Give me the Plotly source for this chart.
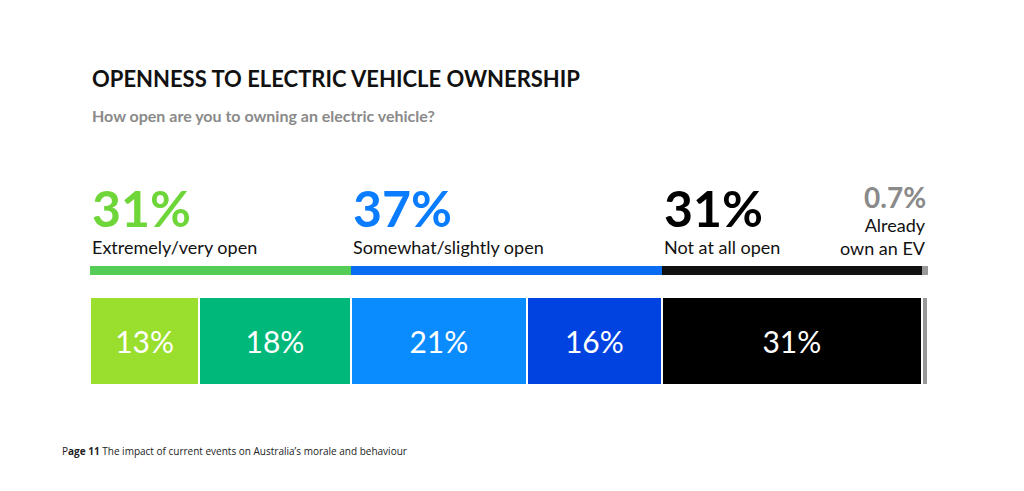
import plotly.graph_objects as go

segments = ["13%", "18%", "21%", "16%", "31%", ""]
values = [13, 18, 21, 16, 31, 0.7]
seg_colors = ["#9ade2e", "#00b87a", "#0a8cff", "#0043e0", "#000000", "#999999"]

groups = ["31%", "37%", "31%", "0.7%"]
group_labels = ["Extremely/very open", "Somewhat/slightly open", "Not at all open", "Already<br>own an EV"]
group_values = [31, 37, 31, 0.7]
group_colors = ["#55cc55", "#0a6cf0", "#111111", "#999999"]
group_text_colors = ["#6fd63a", "#0a7cff", "#000000", "#8a8a8a"]

total = sum(values)
fig = go.Figure()

# thin summary bar
for v, c in zip(group_values, group_colors):
    fig.add_trace(go.Bar(x=[v], y=[270], orientation="h", width=9,
                         marker=dict(color=c, line=dict(width=0)), showlegend=False,
                         hoverinfo="skip"))

# main segmented bar
for lab, v, c in zip(segments, values, seg_colors):
    fig.add_trace(go.Bar(x=[v], y=[341], orientation="h", width=88,
                         marker=dict(color=c, line=dict(color="white", width=2)),
                         text=[lab], textposition="inside", insidetextanchor="middle",
                         textfont=dict(family="Lato", size=30, color="white"),
                         showlegend=False, hoverinfo="skip"))

fig.update_layout(
    barmode="stack", width=1024, height=491,
    margin=dict(l=82, r=104, t=0, b=0),
    paper_bgcolor="white", plot_bgcolor="white",
    xaxis=dict(range=[0, total], visible=False),
    yaxis=dict(range=[499, 8], visible=False),
    font=dict(family="Lato"),
)

fig.add_annotation(text="<b>OPENNESS TO ELECTRIC VEHICLE OWNERSHIP</b>", xref="paper", yref="y",
                   x=0, y=78, xanchor="left", yanchor="middle", showarrow=False,
                   font=dict(size=22, color="#111111"))
fig.add_annotation(text="<b>How open are you to owning an electric vehicle?</b>", xref="paper", yref="y",
                   x=0, y=115, xanchor="left", yanchor="middle", showarrow=False,
                   font=dict(size=16, color="#8a8a8a"))

start = 0
for i, (g, lab, v, tc) in enumerate(zip(groups, group_labels, group_values, group_text_colors)):
    if i < 3:
        fig.add_annotation(text="<b>" + g + "</b>", x=start, y=208, xanchor="left", yanchor="middle",
                           showarrow=False, font=dict(size=50, color=tc))
        fig.add_annotation(text=lab, x=start, y=247, xanchor="left", yanchor="middle",
                           showarrow=False, font=dict(size=18, color="#111111"))
    else:
        fig.add_annotation(text="<b>" + g + "</b>", x=total, y=197, xanchor="right", yanchor="middle",
                           showarrow=False, font=dict(size=28, color=tc))
        fig.add_annotation(text=lab, x=total, y=236, xanchor="right", yanchor="middle",
                           showarrow=False, align="right", font=dict(size=18, color="#111111"))
    start += v

fig.add_annotation(text="P<b>age 11</b> The impact of current events on Australia’s morale and behaviour",
                   xref="paper", x=-30 / 838, y=451, xanchor="left", yanchor="middle",
                   showarrow=False, font=dict(family="Open Sans", size=10, color="#222222"))

fig.write_html("out.html")
